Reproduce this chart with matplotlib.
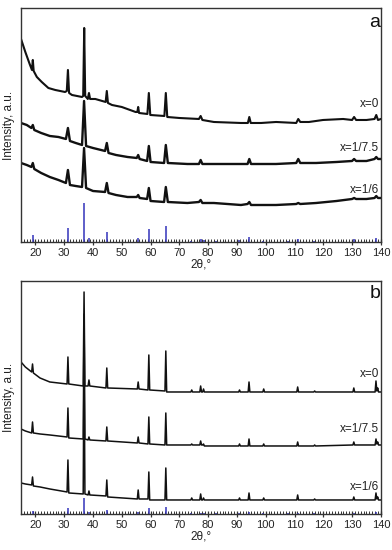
import matplotlib
matplotlib.use("Agg")
import matplotlib.pyplot as plt
from matplotlib.ticker import MultipleLocator

plt.rcParams['font.family'] = ['Liberation Sans', 'DejaVu Sans']

# ---------------- data ----------------
# Panel a
a0_tth = [15, 16.5, 18, 18.8, 19.1, 19.4, 20.5, 22.2, 24.5, 26.9, 30.3, 30.9, 31.3, 31.7, 32.7, 36.2, 36.6, 36.95,
          37.3, 38.2, 38.6, 39.0, 40.8, 44.4, 44.8, 45.2, 46.6, 50, 54.8, 55.4, 55.7, 56.0, 58.9, 59.4, 59.9, 64.8,
          65.3, 65.8, 70, 76.8, 77.4, 78.0, 82, 91.4, 93.8, 94.3, 94.8, 98.4, 103.6, 110.6, 111.3, 112.0, 115, 119.9,
          126.9, 130.0, 130.7, 131.4, 135, 137.8, 138.4, 139.0, 140]
a0_int = [203, 190, 178, 172, 182, 171, 165, 160, 154, 152, 150, 151, 172, 149, 147, 145, 146, 214,
          146, 143, 149, 143, 143, 140, 151, 139, 137, 135, 130, 130, 135, 129, 128, 149, 127, 126,
          149, 125, 124, 123, 126, 122, 120, 119, 119, 125, 119, 119, 120, 119, 123, 120, 120, 122,
          123, 122, 125, 122, 122, 123, 127, 122, 123]

a75_tth = [15, 17, 18.6, 19.1, 19.6, 22, 25, 28, 30.6, 31.3, 32.0, 34, 36.2, 36.9, 37.6, 40, 44.2, 44.8, 45.4, 48,
           52, 55.2, 55.7, 56.2, 58.8, 59.4, 60.0, 64.7, 65.3, 66.0, 72.8, 76.8, 77.4, 78.0, 82, 91.4, 93.7, 94.3,
           94.9, 98.4, 103.6, 110.6, 111.3, 112.0, 117.5, 124.6, 130.0, 130.7, 131.4, 135, 137.8, 138.4, 139.0, 140]
a75_int = [119, 117, 114, 117, 112, 109, 106, 105, 103, 114, 101, 99, 97, 141, 96, 94, 91, 99, 89, 87,
           85, 84, 87, 83, 81, 96, 80, 79, 97, 79, 78, 78, 82, 78, 78, 78, 78, 83,
           78, 78, 78, 79, 83, 79, 79, 80, 81, 83, 81, 81, 83, 85, 83, 83]

a6_tth = a75_tth
a6_int = [79, 77, 75, 79, 73, 69, 65, 62, 59, 72, 57, 56, 55, 94, 54, 51, 50, 59, 49, 47,
          45, 45, 47, 44, 43, 54, 41, 40, 55, 40, 39, 40, 42, 39, 39, 37, 38, 40,
          37, 37, 37, 38, 39, 38, 39, 41, 43, 44, 43, 43, 44, 46, 44, 44]

# Panel b
b_tth = [15, 16.5, 18.7, 19.0, 19.3, 21.6, 25, 31.0, 31.3, 31.6, 36.6, 36.9, 37.2, 38.3, 38.6, 38.9, 44.5, 44.8,
         45.1, 55.4, 55.7, 56.0, 59.1, 59.4, 59.7, 65.0, 65.3, 65.6, 74.0, 74.3, 74.6, 77.1, 77.4, 77.7, 78.1, 78.4,
         78.7, 90.6, 90.9, 91.2, 93.9, 94.2, 94.5, 99.0, 99.3, 99.6, 110.8, 111.1, 111.4, 116.7, 117.0, 117.3,
         130.3, 130.6, 130.9, 138.0, 138.3, 138.6, 138.9, 139.2, 140]
b0_int = [152, 147, 142, 150, 141, 136, 132, 130, 157, 130, 128, 222, 128, 128, 134, 128, 126, 146,
          126, 125, 132, 125, 124, 159, 124, 123, 163, 122, 122, 124, 122, 122, 128, 122, 122, 125,
          122, 122, 124, 122, 122, 132, 122, 122, 125, 122, 122, 127, 122, 122, 123, 122,
          122, 126, 122, 122, 133, 123, 126, 122, 122]
b75_int = [85, 83, 81, 92, 81, 80, 79, 77, 106, 76, 75, 200, 75, 74, 77, 74, 73, 87,
           73, 71, 77, 71, 70, 97, 70, 69, 101, 69, 69, 70, 69, 69, 73, 69, 69, 70,
           68, 68, 70, 68, 68, 75, 68, 68, 70, 68, 68, 72, 68, 68, 69, 68,
           69, 72, 69, 69, 75, 70, 72, 69, 69]
b6_int = [31, 30, 29, 37, 28, 27, 25, 22, 54, 21, 20, 165, 20, 19, 23, 19, 18, 34,
          17, 15, 24, 15, 15, 42, 14, 14, 46, 14, 14, 16, 14, 14, 20, 14, 14, 16,
          14, 14, 16, 14, 14, 21, 14, 14, 16, 14, 14, 19, 14, 14, 15, 14,
          14, 17, 14, 14, 21, 15, 17, 14, 14]

# Reference pattern (sticks)
ref_pos = [19.0, 31.3, 36.9, 38.6, 44.8, 55.7, 59.4, 65.3, 74.2, 77.4, 78.4, 82.6, 90.8, 94.2, 99.2, 107.6,
           111.1, 116.9, 130.6, 138.3]
ref_a = [7, 14, 39, 4, 10, 4, 13, 16, 1, 3, 2, 1, 2, 5, 1, 1, 3, 1, 3, 4]
ref_b = [3, 6, 16, 2, 4, 2, 6, 7, 1, 1, 1, 0.5, 1, 2, 0.5, 0.5, 1, 0.5, 1, 2]

sample_labels = ['x=0', 'x=1/7.5', 'x=1/6']
label_y_a = [138, 94, 52]
label_y_b = [140, 85, 27]
panel_letters = ['a', 'b']
xlabel = '2θ,°'
ylabel = 'Intensity, a.u.'
x_ticks = list(range(20, 141, 10))

# ---------------- figure ----------------
fig = plt.figure(figsize=(3.92, 5.5), dpi=100)
ax_a = fig.add_axes([0.0536, 0.56, 0.918, 0.4255])
ax_b = fig.add_axes([0.0536, 0.0655, 0.918, 0.4236])

stick_color = '#3333bb'
axes_color = '#333333'


def style(ax, letter, letter_y, ymax):
    ax.set_xlim(15, 140)
    ax.set_ylim(0, ymax)
    ax.set_yticks([])
    ax.xaxis.set_minor_locator(MultipleLocator(1))
    ax.set_xticks(x_ticks)
    ax.tick_params(axis='x', which='major', direction='inout', length=5, width=0.9,
                   labelsize=8, pad=2, colors=axes_color, labelcolor='#222222')
    ax.tick_params(axis='x', which='minor', direction='in', length=2.5, width=0.7, colors=axes_color)
    for s in ax.spines.values():
        s.set_color(axes_color)
        s.set_linewidth(1.0)
    ax.set_xlabel(xlabel, fontsize=8.5, labelpad=0.5, color='#222222')
    ax.set_ylabel(ylabel, fontsize=8.5, labelpad=4, color='#222222')
    ax.text(0.983, letter_y, letter, transform=ax.transAxes, ha='center', va='center',
            fontsize=14, color='#111111')


# Panel a
ax_a.plot(a0_tth, a0_int, color='#111111', lw=1.5, solid_joinstyle='round')
ax_a.plot(a75_tth, a75_int, color='#111111', lw=1.7, solid_joinstyle='round')
ax_a.plot(a6_tth, a6_int, color='#111111', lw=1.7, solid_joinstyle='round')
ax_a.vlines(ref_pos, 0, ref_a, color=stick_color, lw=1.1)
for lab, yy in zip(sample_labels, label_y_a):
    ax_a.text(139.5, yy, lab, ha='right', va='center', fontsize=8.5, color='#222222')
style(ax_a, panel_letters[0], 0.94, 234)

# Panel b
ax_b.plot(b_tth, b0_int, color='#111111', lw=1.1)
ax_b.plot(b_tth, b75_int, color='#111111', lw=1.1)
ax_b.plot(b_tth, b6_int, color='#111111', lw=1.1)
ax_b.vlines(ref_pos, 0, ref_b, color=stick_color, lw=1.1)
for lab, yy in zip(sample_labels, label_y_b):
    ax_b.text(139.5, yy, lab, ha='right', va='center', fontsize=8.5, color='#222222')
style(ax_b, panel_letters[1], 0.948, 233)

fig.savefig('out.png', dpi=100)
